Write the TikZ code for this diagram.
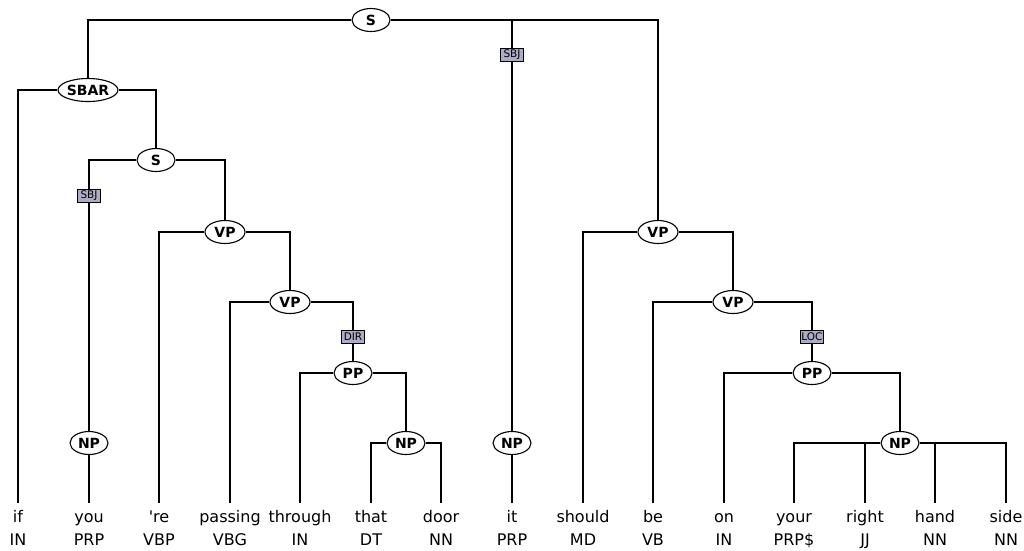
\documentclass[tikz,border=0pt]{standalone}
\usepackage{fontspec}
\setmainfont{DejaVu Sans}
\usetikzlibrary{shapes.geometric}
\definecolor{tagfill}{RGB}{172,172,198}
\tikzset{
  cat/.style={ellipse,draw,line width=1.1pt,fill=white,inner sep=0pt,minimum height=23pt,minimum width=38pt,font=\fontsize{14}{16}\selectfont\bfseries},
  tag/.style={rectangle,draw,line width=0.9pt,fill=tagfill,inner sep=1.2pt,minimum height=13pt,minimum width=23pt,font=\fontsize{10.5}{12}\selectfont},
  word/.style={anchor=base,inner sep=0pt,font=\fontsize{16}{19}\selectfont},
  edge/.style={line width=1.2pt}
}
\begin{document}
\begin{tikzpicture}[x=1pt,y=-1pt]
\useasboundingbox (0,0) rectangle (1024,550);
% leaves
\foreach \i/\xx/\w/\p in {1/18/if/IN,2/89/you/PRP,3/159/\textquotesingle re/VBP,4/230/passing/VBG,5/300/through/IN,6/371/that/DT,7/441/door/NN,8/512/it/PRP,9/583/should/MD,10/653/be/VB,11/724/on/IN,12/794/your/PRP\$,13/865/right/JJ,14/935/hand/NN,15/1006/side/NN}{
  \node[word] (w\i) at (\xx,522) {\w};
  \node[word] (p\i) at (\xx,545) {\p};
  \coordinate (t\i) at (\xx,503);
}
% internal nodes
\node[cat] (S0) at (371,20) {S};
\node[cat,minimum width=54pt] (SBAR) at (88,90) {SBAR};
\node[tag] (SBJa) at (512,55) {SBJ};
\node[cat] (NPit) at (512,443) {NP};
\node[cat,minimum width=40pt] (VPr) at (658,232) {VP};
\node[cat] (S1) at (156,160) {S};
\node[tag] (SBJb) at (89,196) {SBJ};
\node[cat] (NPyou) at (89,443) {NP};
\node[cat,minimum width=40pt] (VP1) at (225,232) {VP};
\node[cat,minimum width=40pt] (VP2) at (290,302) {VP};
\node[tag] (DIR) at (353,337) {DIR};
\node[cat] (PP1) at (353,373) {PP};
\node[cat] (NP2) at (406,443) {NP};
\node[cat,minimum width=40pt] (VP3) at (733,302) {VP};
\node[tag] (LOC) at (812,337) {LOC};
\node[cat] (PP2) at (812,373) {PP};
\node[cat] (NP3) at (900,443) {NP};
% edges
\draw[edge] (S0) -| (SBAR);
\draw[edge] (S0) -| (SBJa);
\draw[edge] (SBJa) -- (NPit);
\draw[edge] (S0) -| (VPr);
\draw[edge] (NPit) -- (t8);
\draw[edge] (SBAR) -| (t1);
\draw[edge] (SBAR) -| (S1);
\draw[edge] (S1) -| (SBJb);
\draw[edge] (SBJb) -- (NPyou);
\draw[edge] (NPyou) -- (t2);
\draw[edge] (S1) -| (VP1);
\draw[edge] (VP1) -| (t3);
\draw[edge] (VP1) -| (VP2);
\draw[edge] (VP2) -| (t4);
\draw[edge] (VP2) -| (DIR);
\draw[edge] (DIR) -- (PP1);
\draw[edge] (PP1) -| (t5);
\draw[edge] (PP1) -| (NP2);
\draw[edge] (NP2) -| (t6);
\draw[edge] (NP2) -| (t7);
\draw[edge] (VPr) -| (t9);
\draw[edge] (VPr) -| (VP3);
\draw[edge] (VP3) -| (t10);
\draw[edge] (VP3) -| (LOC);
\draw[edge] (LOC) -- (PP2);
\draw[edge] (PP2) -| (t11);
\draw[edge] (PP2) -| (NP3);
\draw[edge] (NP3) -| (t12);
\draw[edge] (NP3) -| (t15);
\draw[edge] (t13 |- NP3) -- (t13);
\draw[edge] (t14 |- NP3) -- (t14);
\end{tikzpicture}
\end{document}
